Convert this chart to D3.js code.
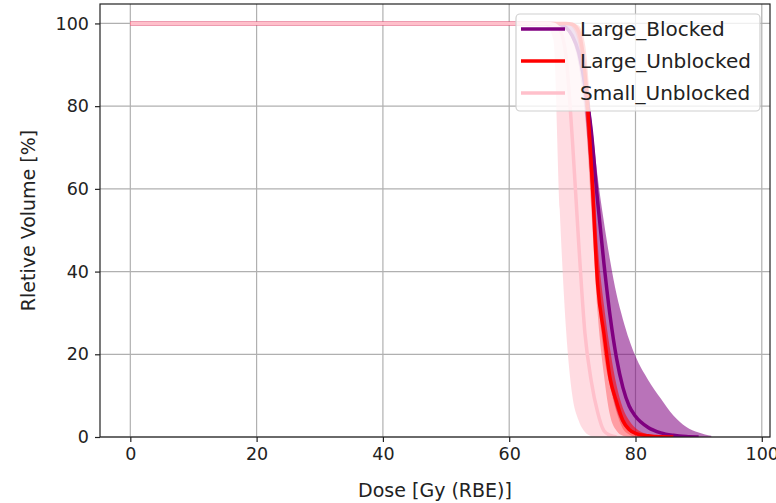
<!DOCTYPE html>
<html>
<head>
<meta charset="utf-8">
<script src="https://cdn.jsdelivr.net/npm/d3@7"></script>
<style>
  body { margin: 0; background: #fff; }
  svg { display: block; font-family: "DejaVu Sans", sans-serif; }
</style>
</head>
<body>
<svg id="chart" width="776" height="503"></svg>
<script>
// ---- data ----
const dose = [0, 60, 64, 65, 66, 67, 68, 69, 70, 71, 72, 73, 74, 75, 76, 77, 78, 79, 80, 82, 84, 86, 88, 90, 92];

const largeBlockedMean  = [100, 100, 100, 100, 100, 100, 99.8, 99, 97, 93, 85, 74, 57, 42, 29, 19, 12, 7.5, 5, 2.3, 1, 0.4, 0.1, 0, null];
const largeBlockedLow   = [100, 100, 100, 100, 100, 100, 99.5, 98.5, 96, 90, 78, 60, 38, 23, 13, 6.5, 3, 1.3, 0.5, 0.1, 0, 0, 0, 0, 0];
const largeBlockedHigh  = [100, 100, 100, 100, 100, 100, 100, 100, 99.7, 97.5, 90, 77, 63, 52, 42.5, 34.5, 28.5, 23.5, 19.5, 13.8, 9.3, 5.2, 2.5, 1.1, 0.3];

const largeUnblockedMean = [100, 100, 100, 100, 100, 100, 100, 100, 99.8, 98, 88, 66, 37, 25, 14, 8.5, 4, 1.8, 0.9, 0.3, 0.05, 0, null, null, null];
const largeUnblockedLow  = [100, 100, 100, 100, 100, 100, 100, 100, 99, 95, 80, 55, 30, 15, 5, 1.5, 0.3, 0, 0, 0, 0, 0, 0, 0, 0];
const largeUnblockedHigh = [100, 100, 100, 100, 100, 100, 100, 100, 100, 99.5, 95, 76, 47, 32, 21, 12.5, 7, 4, 2.2, 0.6, 0.1, 0, 0, 0, 0];

const smallUnblockedMean = [100, 100, 100, 100, 100, 99.8, 98.5, 92, 72, 47, 25, 13.5, 6, 1.5, 0.4, 0, null, null, null, null, null, null, null, null, null];
const smallUnblockedLow  = [100, 100, 100, 99.8, 99.2, 96, 55, 26, 10, 4, 1.2, 0.2, 0, 0, 0, 0, 0, 0, 0, 0, 0, 0, 0, 0, 0];
const smallUnblockedHigh = [100, 100, 100, 100, 100, 100, 100, 99.5, 97, 92, 80, 58, 35, 20, 12, 6, 2, 0.6, 0, 0, 0, 0, 0, 0, 0];

const seriesNames = ["Large_Blocked", "Large_Unblocked", "Small_Unblocked"];
const seriesColors = ["#800080", "#ff0000", "#ffc0cb"];
const xTicks = [0, 20, 40, 60, 80, 100];
const yTicks = [0, 20, 40, 60, 80, 100];

const series = [
  { name: seriesNames[0], color: seriesColors[0], mean: largeBlockedMean, low: largeBlockedLow, high: largeBlockedHigh },
  { name: seriesNames[1], color: seriesColors[1], mean: largeUnblockedMean, low: largeUnblockedLow, high: largeUnblockedHigh },
  { name: seriesNames[2], color: seriesColors[2], mean: smallUnblockedMean, low: smallUnblockedLow, high: smallUnblockedHigh }
];

// ---- layout ----
const L = 100, R = 770, T = 4, B = 437;
const svg = d3.select("#chart");
const x = d3.scaleLinear().domain([-4.8, 101.3]).range([L, R]);
const y = d3.scaleLinear().domain([0, 104.7]).range([B, T]);

svg.append("defs").append("clipPath").attr("id", "clip")
  .append("rect").attr("x", L).attr("y", T).attr("width", R - L).attr("height", B - T);

// grid
const grid = svg.append("g");
grid.selectAll(".gx").data(xTicks).enter().append("line")
  .attr("x1", d => x(d)).attr("x2", d => x(d)).attr("y1", T).attr("y2", B)
  .attr("stroke", "#b0b0b0").attr("stroke-width", 1.2);
grid.selectAll(".gy").data(yTicks).enter().append("line")
  .attr("y1", d => y(d)).attr("y2", d => y(d)).attr("x1", L).attr("x2", R)
  .attr("stroke", "#b0b0b0").attr("stroke-width", 1.2);

const plot = svg.append("g").attr("clip-path", "url(#clip)");

const area = s => d3.area()
  .x((d, i) => x(dose[i]))
  .y0((d, i) => y(s.low[i]))
  .y1((d, i) => y(s.high[i]))
  .curve(d3.curveMonotoneX)(dose);

const line = s => d3.line()
  .defined((d, i) => s.mean[i] !== null)
  .x((d, i) => x(dose[i]))
  .y((d, i) => y(s.mean[i]))
  .curve(d3.curveMonotoneX)(dose);

series.forEach(s => {
  plot.append("path").attr("d", area(s)).attr("fill", s.color).attr("fill-opacity", 0.55).attr("stroke", "none");
});
series.forEach(s => {
  plot.append("path").attr("d", line(s)).attr("fill", "none").attr("stroke", s.color)
    .attr("stroke-width", 3.5).attr("stroke-linejoin", "round");
});

// axes
const xAxis = svg.append("g").attr("transform", `translate(0,${B})`)
  .call(d3.axisBottom(x).tickValues(xTicks).tickSize(5).tickPadding(6));
const yAxis = svg.append("g").attr("transform", `translate(${L},0)`)
  .call(d3.axisLeft(y).tickValues(yTicks).tickSize(5).tickPadding(6));
[xAxis, yAxis].forEach(a => {
  a.select(".domain").remove();
  a.selectAll("line").attr("stroke", "#222").attr("stroke-width", 1.2);
  a.selectAll("text").attr("font-size", "17.5px").attr("fill", "#222")
    .attr("font-family", "DejaVu Sans, sans-serif");
});

// frame
svg.append("rect").attr("x", L).attr("y", T).attr("width", R - L).attr("height", B - T)
  .attr("fill", "none").attr("stroke", "#222").attr("stroke-width", 1.2);

// labels
svg.append("text").attr("x", (L + R) / 2).attr("y", 497).attr("text-anchor", "middle")
  .attr("font-size", "19px").attr("fill", "#222").text("Dose [Gy (RBE)]");
svg.append("text").attr("transform", `translate(35,${(T + B) / 2}) rotate(-90)`)
  .attr("text-anchor", "middle").attr("font-size", "19px").attr("fill", "#222")
  .text("Rletive Volume [%]");

// legend
const lg = svg.append("g");
lg.append("rect").attr("x", 516).attr("y", 14).attr("width", 244).attr("height", 97).attr("rx", 4)
  .attr("fill", "#fff").attr("fill-opacity", 0.8).attr("stroke", "#d0d0d0").attr("stroke-width", 1.2);
series.forEach((s, i) => {
  const yy = 29 + i * 32;
  lg.append("line").attr("x1", 521).attr("x2", 565).attr("y1", yy).attr("y2", yy)
    .attr("stroke", s.color).attr("stroke-width", 3.5);
  lg.append("text").attr("x", 580).attr("y", yy).attr("dy", "0.36em")
    .attr("font-size", "20px").attr("fill", "#222").text(s.name);
});
</script>
</body>
</html>
